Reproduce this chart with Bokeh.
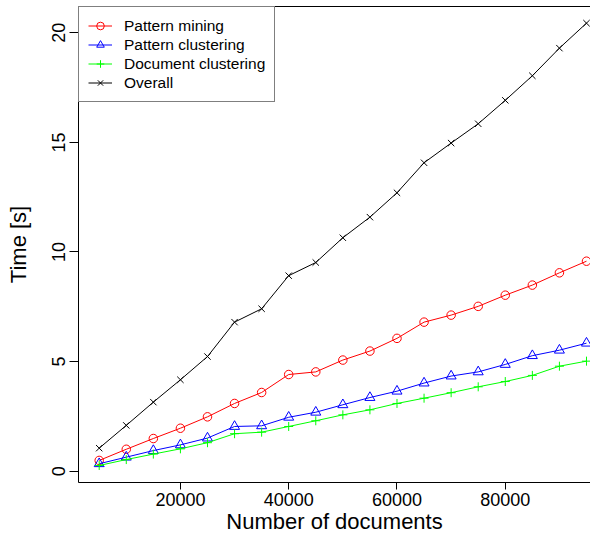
from bokeh.plotting import figure
from bokeh.models import Range1d, FixedTicker, LinearAxis, Legend, LegendItem
from bokeh.embed import file_html
from bokeh.resources import INLINE

docs = [5000, 10000, 15000, 20000, 25000, 30000, 35000, 40000, 45000, 50000,
        55000, 60000, 65000, 70000, 75000, 80000, 85000, 90000, 95000]
pattern_mining = [0.49, 1.00, 1.49, 1.96, 2.48, 3.09, 3.59, 4.41, 4.53, 5.07,
                  5.48, 6.06, 6.80, 7.12, 7.52, 8.03, 8.49, 9.05, 9.58]
pattern_clustering = [0.34, 0.64, 0.94, 1.20, 1.51, 2.04, 2.07, 2.46, 2.69, 3.03,
                      3.36, 3.65, 4.02, 4.34, 4.53, 4.87, 5.27, 5.52, 5.84]
document_clustering = [0.26, 0.53, 0.78, 1.02, 1.30, 1.71, 1.78, 2.04, 2.30, 2.57,
                       2.80, 3.09, 3.33, 3.58, 3.85, 4.09, 4.37, 4.79, 5.02]
overall = [1.05, 2.09, 3.15, 4.17, 5.23, 6.80, 7.41, 8.92, 9.52, 10.65,
           11.59, 12.70, 14.07, 14.97, 15.85, 16.92, 18.04, 19.30, 20.44]

x_ticks = [20000, 40000, 60000, 80000]
x_tick_labels = ["20000", "40000", "60000", "80000"]
y_ticks = [0, 5, 10, 15, 20]
y_tick_labels = ["0", "5", "10", "15", "20"]

series_names = ["Pattern mining", "Pattern clustering", "Document clustering", "Overall"]
series_colors = ["#FF0000", "#0000FF", "#00FF00", "#000000"]
series_markers = ["circle", "triangle", "cross", "x"]
series_sizes = [8.5, 10, 9, 9]

FONT = "Liberation Sans"

p = figure(width=590, height=538, output_backend="svg", toolbar_location=None,
           x_range=Range1d(1177, 95740), y_range=Range1d(-0.516, 21.2),
           min_border_left=78, min_border_right=0, min_border_top=6, min_border_bottom=56,
           x_axis_label="Number of documents", y_axis_label="Time [s]")
p.outline_line_color = None
p.grid.visible = False
p.background_fill_color = "white"
p.border_fill_color = "white"

for ax in (p.xaxis[0], p.yaxis[0]):
    ax.axis_line_color = "black"
    ax.axis_line_width = 1
    ax.major_tick_line_color = "black"
    ax.major_tick_in = 0
    ax.minor_tick_line_color = None
    ax.major_label_text_font = FONT
    ax.major_label_text_font_size = "18px"
    ax.major_label_text_color = "black"
    ax.axis_label_text_font = FONT
    ax.axis_label_text_font_size = "22px"
    ax.axis_label_text_font_style = "normal"
    ax.axis_label_text_color = "black"

p.xaxis[0].ticker = FixedTicker(ticks=x_ticks)
p.xaxis[0].major_label_overrides = dict(zip(x_ticks, x_tick_labels))
p.xaxis[0].major_tick_out = 7
p.xaxis[0].major_label_standoff = 3
p.xaxis[0].axis_label_standoff = 0

p.yaxis[0].ticker = FixedTicker(ticks=y_ticks)
p.yaxis[0].major_label_overrides = dict(zip(y_ticks, y_tick_labels))
p.yaxis[0].major_label_orientation = "vertical"
p.yaxis[0].major_tick_out = 9
p.yaxis[0].major_label_standoff = 4
p.yaxis[0].axis_label_standoff = 19

top_axis = LinearAxis(axis_line_color="black", major_tick_line_color=None,
                      minor_tick_line_color=None, major_label_text_font_size="0px",
                      major_label_text_alpha=0)
top_axis.ticker = FixedTicker(ticks=[])
p.add_layout(top_axis, "above")

items = []
for name, ys, col, mk, sz in zip(series_names,
                                  [pattern_mining, pattern_clustering, document_clustering, overall],
                                  series_colors, series_markers, series_sizes):
    r1 = p.line(docs, ys, line_color=col, line_width=1)
    r2 = p.scatter(docs, ys, marker=mk, size=sz, line_color=col, fill_color=None, line_width=1)
    items.append(LegendItem(label=name, renderers=[r1, r2]))

legend = Legend(items=items, location="top_left", margin=0, padding=9,
                glyph_width=24, glyph_height=19, label_height=19, spacing=0,
                label_standoff=12, label_text_font=FONT, label_text_font_size="15.5px",
                label_text_color="black", border_line_color="black", border_line_width=1,
                background_fill_alpha=1.0)
p.add_layout(legend)

open("out.html", "w").write(file_html(p, INLINE))
